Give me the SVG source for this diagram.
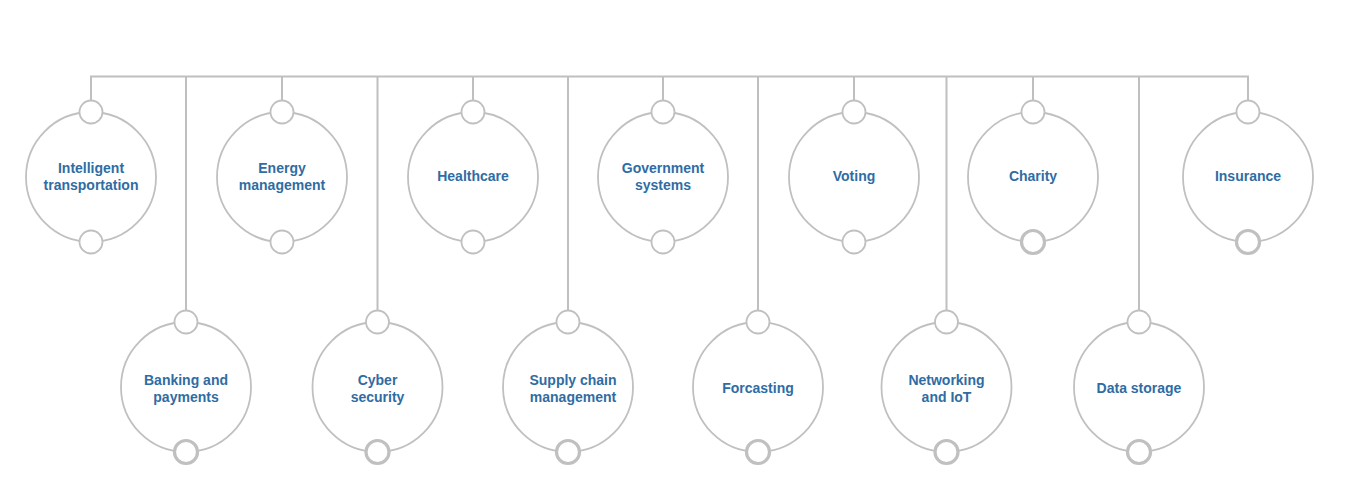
<svg xmlns="http://www.w3.org/2000/svg" width="1364" height="484" viewBox="0 0 1364 484">
  <style>
    .wire { fill: none; stroke: #bfbfbf; stroke-width: 2; }
    .ring { fill: #ffffff; stroke: #c0c0c0; stroke-width: 1.8; }
    .knob { fill: #ffffff; stroke: #c0c0c0; stroke-width: 1.8; }
    .knob-bold { fill: #ffffff; stroke: #c0c0c0; stroke-width: 3.2; }
    .label { font-family: "Liberation Sans", Arial, sans-serif; font-weight: bold; font-size: 14px; fill: #2f6ca3; text-anchor: middle; }
  </style>

  <!-- connectors: top rail and drops -->
  <g id="connectors">
    <path class="wire" d="M91,101 V76.5 H1248 V101"/>
    <path class="wire" d="M282,76.5 V101"/>
    <path class="wire" d="M473,76.5 V101"/>
    <path class="wire" d="M663,76.5 V101"/>
    <path class="wire" d="M854,76.5 V101"/>
    <path class="wire" d="M1033,76.5 V101"/>
    <path class="wire" d="M186,76.5 V311"/>
    <path class="wire" d="M377.5,76.5 V311"/>
    <path class="wire" d="M568,76.5 V311"/>
    <path class="wire" d="M758,76.5 V311"/>
    <path class="wire" d="M946.5,76.5 V311"/>
    <path class="wire" d="M1139,76.5 V311"/>
  </g>

  <!-- upper row -->
  <g id="intelligent-transportation">
    <circle class="ring" cx="91" cy="177" r="65"/>
    <circle class="knob" cx="91" cy="112" r="11.5"/>
    <circle class="knob" cx="91" cy="242" r="11.5"/>
    <text class="label" x="91" y="173">Intelligent</text>
    <text class="label" x="91" y="190">transportation</text>
  </g>
  <g id="energy-management">
    <circle class="ring" cx="282" cy="177" r="65"/>
    <circle class="knob" cx="282" cy="112" r="11.5"/>
    <circle class="knob" cx="282" cy="242" r="11.5"/>
    <text class="label" x="282" y="173">Energy</text>
    <text class="label" x="282" y="190">management</text>
  </g>
  <g id="healthcare">
    <circle class="ring" cx="473" cy="177" r="65"/>
    <circle class="knob" cx="473" cy="112" r="11.5"/>
    <circle class="knob" cx="473" cy="242" r="11.5"/>
    <text class="label" x="473" y="181">Healthcare</text>
  </g>
  <g id="government-systems">
    <circle class="ring" cx="663" cy="177" r="65"/>
    <circle class="knob" cx="663" cy="112" r="11.5"/>
    <circle class="knob" cx="663" cy="242" r="11.5"/>
    <text class="label" x="663" y="173">Government</text>
    <text class="label" x="663" y="190">systems</text>
  </g>
  <g id="voting">
    <circle class="ring" cx="854" cy="177" r="65"/>
    <circle class="knob" cx="854" cy="112" r="11.5"/>
    <circle class="knob" cx="854" cy="242" r="11.5"/>
    <text class="label" x="854" y="181">Voting</text>
  </g>
  <g id="charity">
    <circle class="ring" cx="1033" cy="177" r="65"/>
    <circle class="knob" cx="1033" cy="112" r="11.5"/>
    <circle class="knob-bold" cx="1033" cy="242" r="11.5"/>
    <text class="label" x="1033" y="181">Charity</text>
  </g>
  <g id="insurance">
    <circle class="ring" cx="1248" cy="177" r="65"/>
    <circle class="knob" cx="1248" cy="112" r="11.5"/>
    <circle class="knob-bold" cx="1248" cy="242" r="11.5"/>
    <text class="label" x="1248" y="181">Insurance</text>
  </g>

  <!-- lower row -->
  <g id="banking-and-payments">
    <circle class="ring" cx="186" cy="387" r="65"/>
    <circle class="knob" cx="186" cy="322" r="11.5"/>
    <circle class="knob-bold" cx="186" cy="452" r="11.5"/>
    <text class="label" x="186" y="385">Banking and</text>
    <text class="label" x="186" y="402">payments</text>
  </g>
  <g id="cyber-security">
    <circle class="ring" cx="377.5" cy="387" r="65"/>
    <circle class="knob" cx="377.5" cy="322" r="11.5"/>
    <circle class="knob-bold" cx="377.5" cy="452" r="11.5"/>
    <text class="label" x="377.5" y="385">Cyber</text>
    <text class="label" x="377.5" y="402">security</text>
  </g>
  <g id="supply-chain-management">
    <circle class="ring" cx="568" cy="387" r="65"/>
    <circle class="knob" cx="568" cy="322" r="11.5"/>
    <circle class="knob-bold" cx="568" cy="452" r="11.5"/>
    <text class="label" x="573" y="385">Supply chain</text>
    <text class="label" x="573" y="402">management</text>
  </g>
  <g id="forcasting">
    <circle class="ring" cx="758" cy="387" r="65"/>
    <circle class="knob" cx="758" cy="322" r="11.5"/>
    <circle class="knob-bold" cx="758" cy="452" r="11.5"/>
    <text class="label" x="758" y="393">Forcasting</text>
  </g>
  <g id="networking-and-iot">
    <circle class="ring" cx="946.5" cy="387" r="65"/>
    <circle class="knob" cx="946.5" cy="322" r="11.5"/>
    <circle class="knob-bold" cx="946.5" cy="452" r="11.5"/>
    <text class="label" x="946.5" y="385">Networking</text>
    <text class="label" x="946.5" y="402">and IoT</text>
  </g>
  <g id="data-storage">
    <circle class="ring" cx="1139" cy="387" r="65"/>
    <circle class="knob" cx="1139" cy="322" r="11.5"/>
    <circle class="knob-bold" cx="1139" cy="452" r="11.5"/>
    <text class="label" x="1139" y="393">Data storage</text>
  </g>
</svg>
